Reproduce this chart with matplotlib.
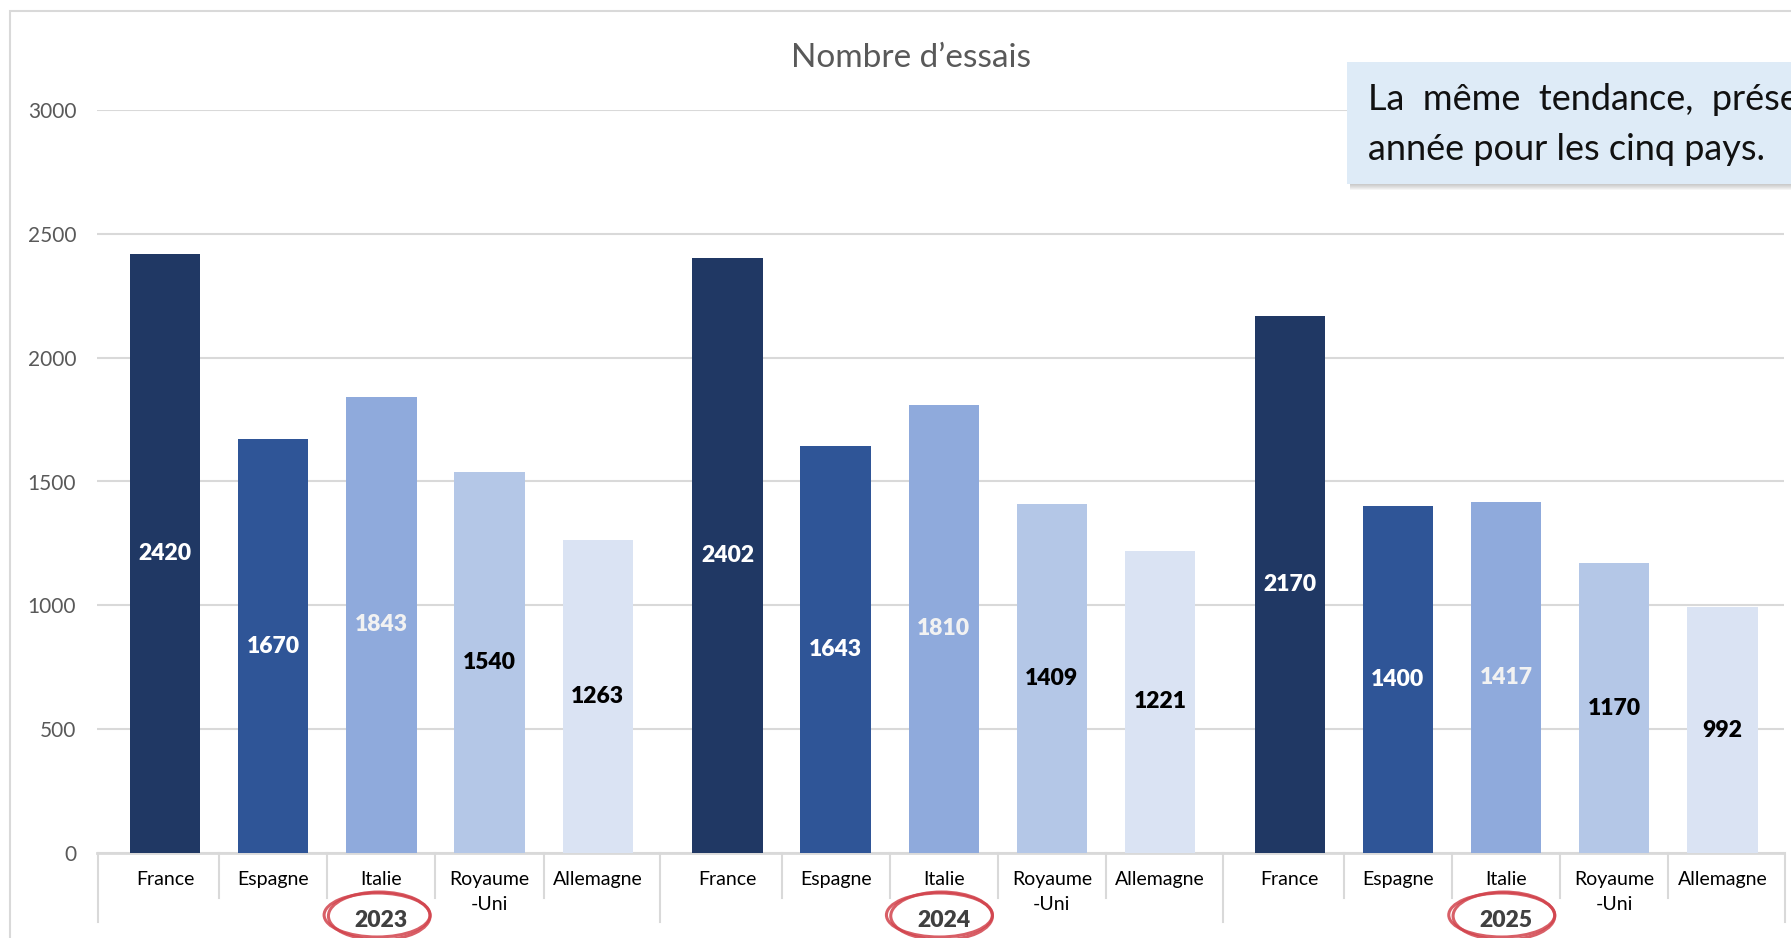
import numpy as np
import matplotlib.pyplot as plt
from matplotlib.patches import Rectangle, Ellipse

plt.rcParams['font.family'] = ['Lato', 'DejaVu Sans']

# donnees
annees = ['2023', '2024', '2025']
pays = ['France', 'Espagne', 'Italie', 'Royaume\n-Uni', 'Allemagne']
essais_2023 = [2420, 1670, 1843, 1540, 1263]
essais_2024 = [2402, 1643, 1810, 1409, 1221]
essais_2025 = [2170, 1400, 1417, 1170, 992]
essais = [essais_2023, essais_2024, essais_2025]

couleurs = ['#203864', '#2F5597', '#8FAADC', '#B4C7E7', '#DAE3F3']
couleurs_texte = ['white', 'white', '#F2F2F2', 'black', 'black']

W, H = 1791, 938
fig = plt.figure(figsize=(W / 100, H / 100), dpi=100)
ax = fig.add_axes([97 / W, 1 - 853 / H, (1784 - 97) / W, (853 - 110) / H])
ax_h = 853 - 110  # hauteur des axes en pixels

# cadre du graphique (coupe a droite et en bas)
fig.patches.append(Rectangle((10 / W, -0.2), 1.5, 1.2 - 11 / H, transform=fig.transFigure,
                             fill=False, ec='#D9D9D9', lw=1.5, zorder=0))

ecart = 5.2
trans = ax.get_xaxis_transform()
for g, vals in enumerate(essais):
    x = g * ecart + np.arange(len(vals))
    ax.bar(x, vals, width=0.65, color=couleurs, zorder=2)
    for xi, v, c in zip(x, vals, couleurs_texte):
        ax.text(xi, v / 2, str(v), ha='center', va='center', fontsize=16.5,
                fontweight='heavy', color=c, zorder=3)
    # etiquettes des pays
    for xi, p in zip(x, pays):
        for k, ligne in enumerate(p.split('\n')):
            ax.text(xi, -(32 + 25 * k) / ax_h, ligne, transform=trans, ha='center',
                    va='baseline', fontsize=14, color='black', clip_on=False)
    # separateurs courts
    for xi in x[:-1] + 0.5:
        ax.plot([xi, xi], [0, -45 / ax_h], transform=trans, color='#D9D9D9',
                lw=1.5, clip_on=False)
    # annee, entouree en rouge
    xc = g * ecart + 2
    ax.text(xc, -67 / ax_h, annees[g], transform=trans, ha='center', va='center',
            fontsize=16.5, fontweight='heavy', color='#404040', clip_on=False)
    for dx, dy, w, h in [(-0.04, -62, 0.98, 44), (-0.02, -63, 0.94, 48)]:
        ax.add_patch(Ellipse((xc + dx, dy / ax_h), w, h / ax_h, transform=trans,
                             fill=False, ec='#D2434C', lw=2.2, alpha=0.85, clip_on=False))

# separateurs de groupe
for g in range(len(essais) + 1):
    xg = g * ecart - 0.62
    ax.plot([xg, xg], [0, -69 / ax_h], transform=trans, color='#D9D9D9',
            lw=1.5, clip_on=False)

ax.axhline(0, color='#D9D9D9', lw=2, zorder=1, clip_on=False)
ax.set_xlim(-0.63, 3 * ecart - 0.63)
ax.set_ylim(0, 3000)
ax.set_yticks(range(0, 3001, 500))
ax.yaxis.grid(True, color='#D9D9D9', lw=1.5)
ax.set_axisbelow(True)
ax.set_xticks([])
ax.tick_params(axis='y', length=0, pad=15, labelsize=15, labelcolor='#595959')
for s in ax.spines.values():
    s.set_visible(False)

fig.text(0.5086, 1 - 67 / H, 'Nombre d\u2019essais', ha='center', va='baseline',
         fontsize=24, color='#595959')

# encadre de commentaire (coupe par le bord droit)
for i in range(6):
    fig.patches.append(Rectangle(((1347 + 3) / W, 1 - (184 + 6 - i) / H), 0.3, 120 / H,
                                 transform=fig.transFigure, fc='gray', ec='none',
                                 alpha=0.08, zorder=4))
fig.patches.append(Rectangle((1347 / W, 1 - 184 / H), 0.3, 122 / H,
                             transform=fig.transFigure, fc='#DEEBF7', ec='none', zorder=5))
fig.text(1368 / W, 1 - 110 / H, 'La  même  tendance,  présente  chaque', fontsize=26,
         va='baseline', color='#111111', zorder=6)
fig.text(1368 / W, 1 - 160 / H, 'année pour les cinq pays.', fontsize=26,
         va='baseline', color='#111111', zorder=6)

fig.savefig('out.png', dpi=100)
